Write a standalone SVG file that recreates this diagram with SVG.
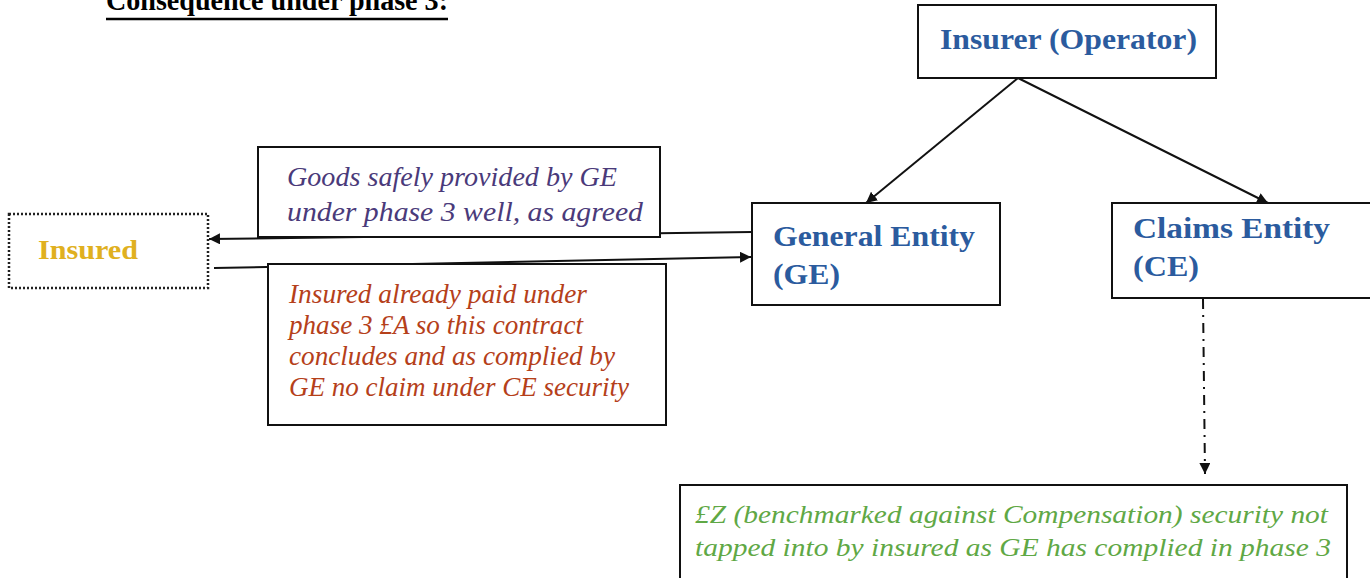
<svg xmlns="http://www.w3.org/2000/svg" width="1370" height="578" viewBox="0 0 1370 578">
  <style>
    .box { fill: #ffffff; stroke: #111111; stroke-width: 2; }
    .dotbox { fill: #ffffff; stroke: #222222; stroke-width: 2.5; stroke-dasharray: 2 2; }
    .conn { fill: none; stroke: #111111; stroke-width: 2; }
    .dashdot { fill: none; stroke: #111111; stroke-width: 2; stroke-dasharray: 10 6 2 6; }
    text { font-family: "Liberation Serif", serif; }
    .title { font-weight: bold; font-size: 29px; fill: #000000; }
    .entity { font-weight: bold; font-size: 29px; fill: #2b5b9e; }
    .insured { font-weight: bold; font-size: 28px; fill: #e0b020; }
    .note { font-style: italic; font-size: 27px; }
    .purple { fill: #4a3a7a; }
    .red { fill: #b5401a; }
    .green { fill: #5fa845; font-size: 26px; }
  </style>
  <defs>
    <marker id="arrowBig" viewBox="0 0 10 10" refX="10" refY="5" markerWidth="11" markerHeight="11" markerUnits="userSpaceOnUse" orient="auto">
      <path d="M0,0 L10,5 L0,10 z" fill="#111111"/>
    </marker>
  </defs>

  <!-- heading -->
  <g id="heading">
    <text class="title" x="106" y="10" textLength="342" lengthAdjust="spacingAndGlyphs">Consequence under phase 3:</text>
    <line x1="106" y1="19" x2="448" y2="19" stroke="#000000" stroke-width="2.5"/>
  </g>

  <!-- connectors -->
  <g id="connectors">
    <line class="conn" x1="1018" y1="78" x2="866" y2="203" marker-end="url(#arrowBig)"/>
    <line class="conn" x1="1018" y1="78" x2="1268" y2="203" marker-end="url(#arrowBig)"/>
    <line class="conn" x1="752" y1="232" x2="209" y2="239" marker-end="url(#arrowBig)"/>
    <line class="conn" x1="214" y1="268" x2="751" y2="257" marker-end="url(#arrowBig)"/>
    <line class="dashdot" x1="1203" y1="299" x2="1205" y2="474" marker-end="url(#arrowBig)"/>
  </g>

  <!-- Insurer (Operator) -->
  <g id="insurer">
    <rect class="box" x="918" y="5" width="298" height="73"/>
    <text class="entity" x="940" y="49" textLength="257" lengthAdjust="spacingAndGlyphs">Insurer (Operator)</text>
  </g>

  <!-- Insured -->
  <g id="insured">
    <rect class="dotbox" x="9" y="214" width="199" height="74"/>
    <text class="insured" x="38" y="259" textLength="100" lengthAdjust="spacingAndGlyphs">Insured</text>
  </g>

  <!-- goods note -->
  <g id="goods-note">
    <rect class="box" x="258" y="147" width="402" height="90"/>
    <text class="note purple" x="287" y="186" textLength="330" lengthAdjust="spacingAndGlyphs">Goods safely provided by GE</text>
    <text class="note purple" x="287" y="221" textLength="356" lengthAdjust="spacingAndGlyphs">under phase 3 well, as agreed</text>
  </g>

  <!-- payment note -->
  <g id="payment-note">
    <rect class="box" x="268" y="264" width="398" height="161"/>
    <text class="note red" x="289" y="303" textLength="298" lengthAdjust="spacingAndGlyphs">Insured already paid under</text>
    <text class="note red" x="289" y="334" textLength="294" lengthAdjust="spacingAndGlyphs">phase 3 £A so this contract</text>
    <text class="note red" x="289" y="365" textLength="326" lengthAdjust="spacingAndGlyphs">concludes and as complied by</text>
    <text class="note red" x="289" y="396" textLength="340" lengthAdjust="spacingAndGlyphs">GE no claim under CE security</text>
  </g>

  <!-- General Entity -->
  <g id="general-entity">
    <rect class="box" x="752" y="203" width="248" height="102"/>
    <text class="entity" x="773" y="246" textLength="202" lengthAdjust="spacingAndGlyphs">General Entity</text>
    <text class="entity" x="773" y="284" textLength="67" lengthAdjust="spacingAndGlyphs">(GE)</text>
  </g>

  <!-- Claims Entity -->
  <g id="claims-entity">
    <rect class="box" x="1112" y="203" width="268" height="95"/>
    <text class="entity" x="1133" y="238" textLength="197" lengthAdjust="spacingAndGlyphs">Claims Entity</text>
    <text class="entity" x="1133" y="276" textLength="66" lengthAdjust="spacingAndGlyphs">(CE)</text>
  </g>

  <!-- security note -->
  <g id="security-note">
    <rect class="box" x="680" y="485" width="667" height="100"/>
    <text class="note green" x="695" y="523" textLength="633" lengthAdjust="spacingAndGlyphs">£Z (benchmarked against Compensation) security not</text>
    <text class="note green" x="695" y="556" textLength="636" lengthAdjust="spacingAndGlyphs">tapped into by insured as GE has complied in phase 3</text>
  </g>
</svg>
